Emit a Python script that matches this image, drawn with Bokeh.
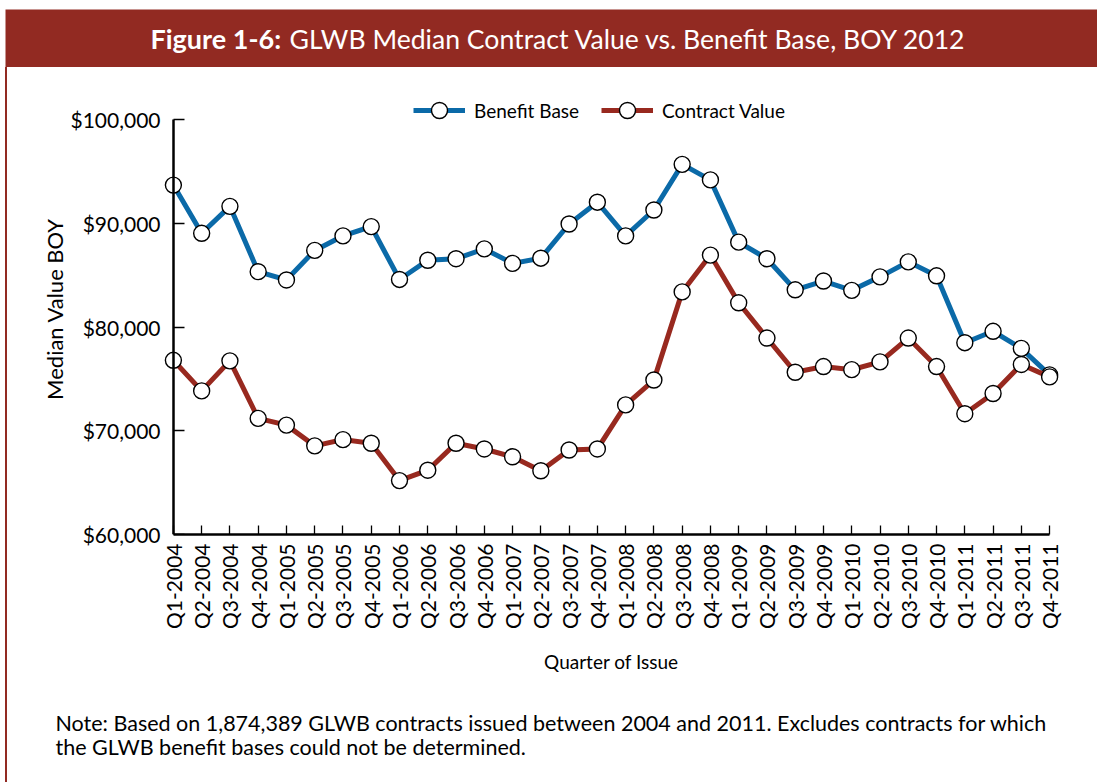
import math
from bokeh.plotting import figure
from bokeh.layouts import column, row
from bokeh.models import (FixedTicker, Legend, LegendItem, NumeralTickFormatter, Range1d,
                          LinearAxis, Spacer, Title)
from bokeh.core.properties import value
from bokeh.embed import file_html
from bokeh.resources import INLINE

quarters = ["Q1-2004", "Q2-2004", "Q3-2004", "Q4-2004",
            "Q1-2005", "Q2-2005", "Q3-2005", "Q4-2005",
            "Q1-2006", "Q2-2006", "Q3-2006", "Q4-2006",
            "Q1-2007", "Q2-2007", "Q3-2007", "Q4-2007",
            "Q1-2008", "Q2-2008", "Q3-2008", "Q4-2008",
            "Q1-2009", "Q2-2009", "Q3-2009", "Q4-2009",
            "Q1-2010", "Q2-2010", "Q3-2010", "Q4-2010",
            "Q1-2011", "Q2-2011", "Q3-2011", "Q4-2011"]

benefit_base = [93700, 89050, 91650, 85350, 84550, 87400, 88800, 89700,
                84600, 86450, 86600, 87550, 86150, 86650, 89950, 92050,
                88800, 91300, 95700, 94200, 88200, 86600, 83600, 84450,
                83550, 84850, 86300, 84950, 78500, 79600, 77950, 75400]

contract_value = [76800, 73850, 76750, 71200, 70550, 68550, 69150, 68800,
                  65200, 66200, 68800, 68250, 67500, 66150, 68150, 68250,
                  72500, 74900, 83400, 86950, 82350, 78950, 75650, 76200,
                  75900, 76650, 78950, 76200, 71650, 73600, 76400, 75200]

y_ticks = [60000, 70000, 80000, 90000, 100000]

title_bold = "Figure 1-6:"
title_rest = "GLWB Median Contract Value vs. Benefit Base, BOY 2012"
y_label = "Median Value BOY"
x_label = "Quarter of Issue"
note_lines = ["Note: Based on 1,874,389 GLWB contracts issued between 2004 and 2011. Excludes contracts for which",
              "the GLWB benefit bases could not be determined."]
series_names = ["Benefit Base", "Contract Value"]

RED = "#922A22"
LINE_RED = "#98291F"
BLUE = "#0B6AA8"
FONT = "Lato"
W = 1097
MAIN_H = 633
NOTE_H = 82


def bare(fig):
    fig.axis.visible = False
    fig.grid.visible = False
    return fig


def border(h):
    # thin red left border line of the box
    return row(Spacer(width=5, height=h),
               Spacer(width=2, height=h, styles={"background-color": RED}),
               Spacer(width=1, height=h))


# ---------- banner (page coords: x 5..1097, y 9..67) ----------
banner = bare(figure(width=W, height=67, output_backend="svg", toolbar_location=None,
                     x_range=Range1d(5, W), y_range=Range1d(67, 9),
                     min_border_left=5, min_border_top=9, min_border_right=0, min_border_bottom=0,
                     background_fill_color=RED, border_fill_color="white",
                     outline_line_color=None))
banner.text(x=[150], y=[38], text=[title_bold], text_font=value(FONT), text_font_style="bold",
            text_font_size="27px", text_color="white", text_baseline="middle", text_align="left")
banner.text(x=[289], y=[38], text=[title_rest], text_font=value(FONT),
            text_font_size="26.6px", text_color="white", text_baseline="middle", text_align="left")

# ---------- main chart ----------
xs = list(range(len(quarters)))
PAD = 0.35
p = figure(width=W - 8, height=MAIN_H, output_backend="svg", toolbar_location=None,
           x_range=Range1d(-PAD, len(quarters) - 1 + PAD), y_range=Range1d(60000, 103500),
           min_border_left=155, min_border_right=38, min_border_top=16, min_border_bottom=166,
           outline_line_color=None, background_fill_color="white", border_fill_color="white")
p.grid.visible = False

bl = p.line(xs, benefit_base, line_color=BLUE, line_width=5, line_join="miter")
bs = p.scatter(xs, benefit_base, size=16, fill_color="white", line_color="black", line_width=1.4)
cl = p.line(xs, contract_value, line_color=LINE_RED, line_width=5, line_join="miter")
cs = p.scatter(xs, contract_value, size=16, fill_color="white", line_color="black", line_width=1.4)

xa = p.xaxis[0]
xa.ticker = FixedTicker(ticks=xs)
xa.major_label_overrides = {i: q for i, q in enumerate(quarters)}
xa.major_label_orientation = math.pi / 2
xa.bounds = (0, len(quarters) - 1)
xa.major_tick_in = 9
xa.major_tick_out = 0
xa.minor_tick_line_color = None
xa.axis_line_width = 2.5
xa.major_tick_line_width = 1.3
xa.major_label_text_font = FONT
xa.major_label_text_font_size = "21px"
xa.major_label_text_color = "black"
xa.major_label_standoff = 9
xa.axis_label = x_label
xa.axis_label_text_font = FONT
xa.axis_label_text_font_size = "19px"
xa.axis_label_text_font_style = "normal"
xa.axis_label_text_color = "black"
xa.axis_label_standoff = 18

# left axis: labels only
ya = p.yaxis[0]
ya.ticker = FixedTicker(ticks=y_ticks)
ya.formatter = NumeralTickFormatter(format="$0,0")
ya.axis_line_color = None
ya.major_tick_line_color = None
ya.minor_tick_line_color = None
ya.major_tick_in = 0
ya.major_tick_out = 0
ya.major_label_text_font = FONT
ya.major_label_text_font_size = "21px"
ya.major_label_text_color = "black"
ya.major_label_standoff = 3

# y-axis title, centred on the $60,000-$100,000 span
p.add_layout(Title(text=y_label, align="center", offset=14, standoff=0,
                   text_font=FONT, text_font_size="22px", text_font_style="normal",
                   text_color="black"), "left")

# axis line drawn at the first quarter, ticks pointing right
yline = LinearAxis(ticker=FixedTicker(ticks=y_ticks), fixed_location=0,
                   bounds=(60000, 100000), major_tick_in=0, major_tick_out=11,
                   minor_tick_line_color=None, axis_line_width=2.5, major_tick_line_width=1.3,
                   major_label_overrides={t: "" for t in y_ticks})
p.add_layout(yline, "right")

legend = Legend(items=[LegendItem(label=series_names[0], renderers=[bl, bs]),
                       LegendItem(label=series_names[1], renderers=[cl, cs])],
                orientation="horizontal", location=(250, 404),
                glyph_width=52, glyph_height=40, label_height=40, label_standoff=9, spacing=22,
                padding=0, margin=0, border_line_color=None, background_fill_alpha=0,
                label_text_font=FONT, label_text_font_size="19px", label_text_color="black")
p.add_layout(legend, "center")

# ---------- note (page coords: x 8..1097, y 700..782) ----------
note = bare(figure(width=W - 8, height=NOTE_H, output_backend="svg", toolbar_location=None,
                   x_range=Range1d(8, W), y_range=Range1d(700 + NOTE_H, 700),
                   min_border=0, outline_line_color=None, border_fill_color="white"))
note.text(x=[55, 55], y=[722, 746], text=note_lines, text_font=value(FONT),
          text_font_size="21.5px", text_color="black", text_baseline="middle", text_align="left")

layout = column(banner, row(border(MAIN_H), p), row(border(NOTE_H), note))

open("out.html", "w").write(file_html(layout, INLINE))
